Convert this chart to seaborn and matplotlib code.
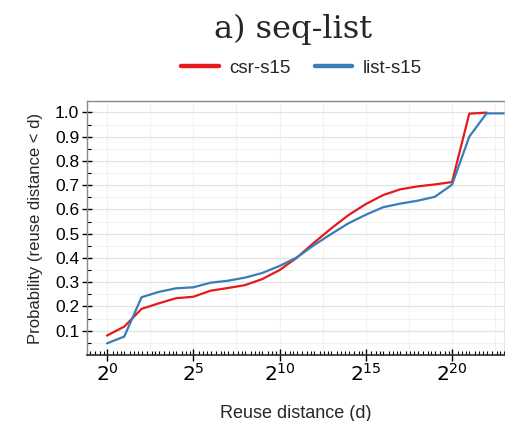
import numpy as np
import pandas as pd
import matplotlib
matplotlib.use("Agg")
import matplotlib.pyplot as plt
import matplotlib.ticker as mticker
import seaborn as sns

exp_csr = list(range(0, 23))
csr_s15 = [0.080, 0.117, 0.190, 0.213, 0.234, 0.240, 0.265, 0.276, 0.288, 0.313,
           0.350, 0.401, 0.463, 0.522, 0.577, 0.622, 0.659, 0.683, 0.695, 0.703,
           0.713, 0.995, 0.999]
exp_list = list(range(0, 24))
list_s15 = [0.048, 0.076, 0.238, 0.260, 0.275, 0.279, 0.298, 0.306, 0.319, 0.338,
            0.367, 0.402, 0.453, 0.499, 0.543, 0.578, 0.609, 0.624, 0.636, 0.652,
            0.702, 0.900, 0.996, 0.996]
series_names = ["csr-s15", "list-s15"]
colors = ["#E41A1C", "#377EB8"]
title = "a) seq-list"
xlabel = "Reuse distance (d)"
ylabel = "Probability (reuse distance < d)"

df = pd.concat([
    pd.DataFrame({"d": [2.0 ** e for e in exp_csr], "p": csr_s15, "series": series_names[0]}),
    pd.DataFrame({"d": [2.0 ** e for e in exp_list], "p": list_s15, "series": series_names[1]}),
], ignore_index=True)

sns.set_theme(style="white")
plt.rcParams["font.family"] = ["Liberation Sans", "DejaVu Sans"]

fig = plt.figure(figsize=(5.06, 4.21), dpi=100)
ax = fig.add_axes([87 / 506, 1 - 355 / 421, (505 - 87) / 506, (355 - 101) / 421])

sns.lineplot(data=df, x="d", y="p", hue="series", palette=colors, linewidth=1.6,
             ax=ax, legend=True, sort=False)

ax.set_xscale("log", base=2)
ax.set_xlim(2 ** -1.16, 2 ** 23.07)
ax.set_ylim(0, 1.047)

ax.xaxis.set_major_locator(mticker.FixedLocator([2.0 ** k for k in range(0, 25, 5)]))
ax.xaxis.set_major_formatter(mticker.FuncFormatter(lambda v, p: r"$2^{%d}$" % round(np.log2(v))))
minor = []
for k in range(-2, 25):
    for s in (1.0, 1.25, 1.5, 1.75):
        minor.append(s * 2.0 ** k)
ax.xaxis.set_minor_locator(mticker.FixedLocator(minor))
ax.xaxis.set_minor_formatter(mticker.NullFormatter())

ax.yaxis.set_major_locator(mticker.FixedLocator(np.round(np.arange(0.1, 1.01, 0.1), 2)))
ax.yaxis.set_major_formatter(mticker.FormatStrFormatter("%.1f"))
ax.yaxis.set_minor_locator(mticker.FixedLocator(np.round(np.arange(0.05, 1.01, 0.1), 2)))

ax.tick_params(axis="x", which="major", direction="inout", length=8, width=1, colors="black",
               labelsize=14.5, pad=2)
ax.tick_params(axis="x", which="minor", direction="in", length=3, width=0.8, colors="black")
ax.tick_params(axis="y", which="major", direction="inout", length=7, width=1, colors="black",
               labelsize=12.5, pad=2)
ax.tick_params(axis="y", which="minor", direction="in", length=3, width=0.8, colors="black")
ax.tick_params(bottom=True, left=True, which="both")

ax.grid(True, which="major", axis="y", color="#e3e3e3", linewidth=0.9)
ax.grid(True, which="minor", axis="y", color="#f0f0f0", linewidth=0.7)
ax.xaxis.grid(False, which="major")
for k in range(0, 25, 5):
    ax.axvline(2.0 ** (k + 2.5), color="#f2f2f2", linewidth=0.8, zorder=0)
    ax.axvline(2.0 ** k, color="#f2f2f2", linewidth=0.8, zorder=0)

for side in ["top", "right", "left"]:
    ax.spines[side].set_color("#888888")
    ax.spines[side].set_linewidth(1.0)
ax.spines["bottom"].set_color("#333333")

ax.set_xlabel(xlabel, fontsize=13, labelpad=14)
ax.set_ylabel(ylabel, fontsize=12, labelpad=9)

leg = ax.legend(loc="lower center", bbox_to_anchor=(0.513, 1.03), ncol=2, frameon=False,
                fontsize=13.5, handlelength=2.0, columnspacing=1.3, handletextpad=0.55)
for line in leg.get_lines():
    line.set_linewidth(3.2)

fig.text(0.58, 1 - 29 / 421, title, ha="center", va="center", fontsize=23,
         family=["DejaVu Serif"])

fig.savefig("out.png", dpi=100)
